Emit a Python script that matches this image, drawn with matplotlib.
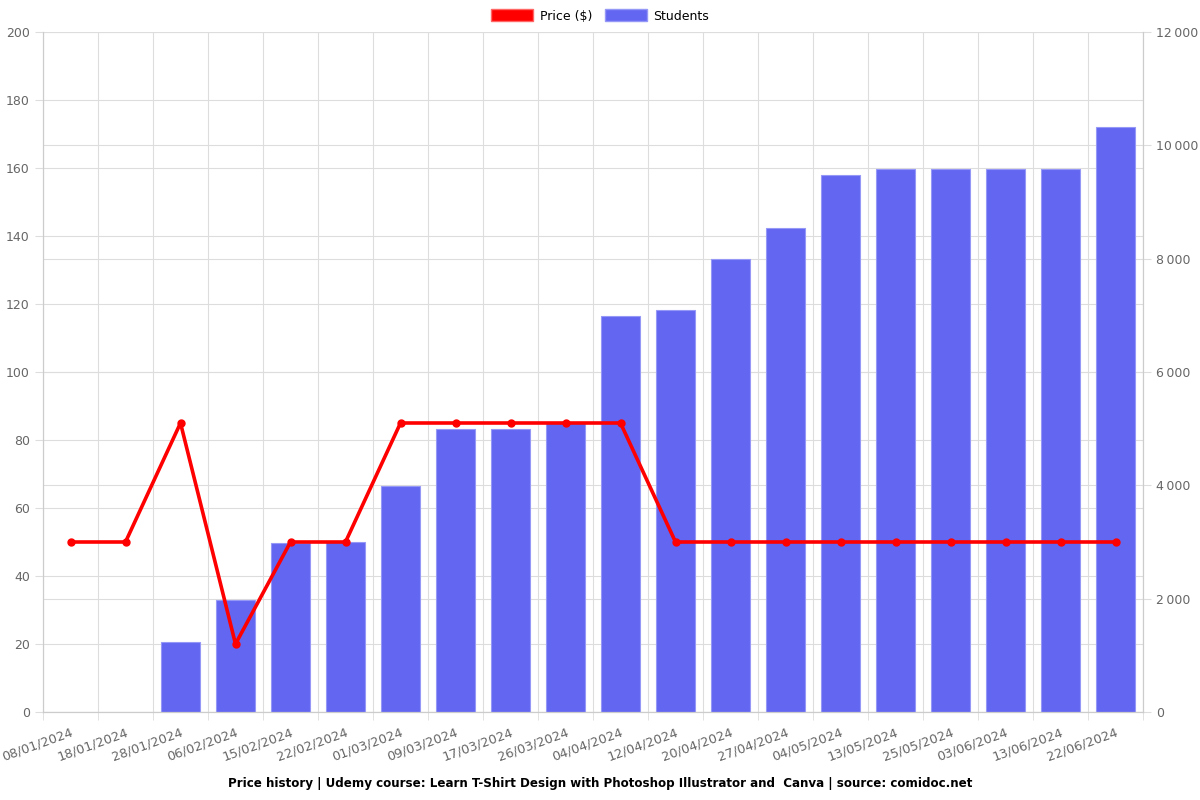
import matplotlib
matplotlib.use("Agg")
import matplotlib.pyplot as plt
from matplotlib.patches import Patch
from matplotlib.ticker import FuncFormatter, MultipleLocator
import numpy as np

dates = ["08/01/2024", "18/01/2024", "28/01/2024", "06/02/2024", "15/02/2024",
         "22/02/2024", "01/03/2024", "09/03/2024", "17/03/2024", "26/03/2024",
         "04/04/2024", "12/04/2024", "20/04/2024", "27/04/2024", "04/05/2024",
         "13/05/2024", "25/05/2024", "03/06/2024", "13/06/2024", "22/06/2024"]
price = [50, 50, 85, 20, 50, 50, 85, 85, 85, 85, 85, 50, 50, 50, 50, 50, 50, 50, 50, 50]
students = [0, 0, 1240, 1980, 2990, 3000, 3990, 4990, 4990, 5100,
            6990, 7100, 8000, 8540, 9480, 9590, 9590, 9590, 9590, 10320]

PRICE_MAX = 200
STUD_MAX = 12000

fig = plt.figure(figsize=(12, 8), dpi=100)
ax2 = fig.add_axes([43/1200, 1-712/800, 1100/1200, 680/800])  # bars (bottom)
ax = ax2.twinx()  # price line (top)
ax.yaxis.tick_left()
ax.yaxis.set_label_position("left")
ax2.yaxis.tick_right()
ax2.yaxis.set_label_position("right")

x = np.arange(len(dates))
grid_c = "#dddddd"
text_c = "#666666"

ax2.set_ylim(0, STUD_MAX)
ax2.set_xlim(-0.5, len(dates) - 0.5)
# gridlines, all drawn beneath the bars
for v in range(0, PRICE_MAX + 1, 20):
    ax2.axhline(v * STUD_MAX / PRICE_MAX, color=grid_c, linewidth=0.8, zorder=0)
for v in range(0, STUD_MAX + 1, 2000):
    ax2.axhline(v, color=grid_c, linewidth=0.8, zorder=0)
for b in np.arange(-0.5, len(dates), 1):
    ax2.axvline(b, color=grid_c, linewidth=0.8, zorder=0)

lw = [0.8 if s > 0 else 0 for s in students]
ax2.bar(x, students, width=0.7, color="#6366f1", edgecolor="#9598f6", linewidth=lw, zorder=2)
ax2.yaxis.set_major_locator(MultipleLocator(2000))
ax2.yaxis.set_major_formatter(FuncFormatter(lambda v, p: f"{int(v):,}".replace(",", "\u2009")))

ax.plot(x, price, color="#ff0000", linewidth=2.6, marker="o", markersize=5, zorder=5)
ax.set_ylim(0, PRICE_MAX)
ax.yaxis.set_major_locator(MultipleLocator(20))
ax.set_xlim(-0.5, len(dates) - 0.5)

ax2.set_xticks(x)
ax2.set_xticklabels(dates, rotation=20, ha="right", rotation_mode="anchor")
ax2.set_xticks(np.arange(-0.5, len(dates), 1), minor=True)
ax2.tick_params(axis="x", which="major", length=0, pad=10, colors=text_c, labelsize=9.3)
ax2.tick_params(axis="x", which="minor", length=6, color=grid_c)
ax.tick_params(axis="y", length=6, color=grid_c, labelcolor=text_c, labelsize=9)
ax2.tick_params(axis="y", length=6, color=grid_c, labelcolor=text_c, labelsize=9)

for a in (ax, ax2):
    for s in a.spines.values():
        s.set_color("#cccccc")
    a.spines["top"].set_visible(False)

legend_handles = [Patch(facecolor="#ff0000", edgecolor="#ff6666", label="Price ($)"),
                  Patch(facecolor="#6366f1", edgecolor="#9598f6", label="Students")]
fig.legend(handles=legend_handles, loc="center", bbox_to_anchor=(0.5, 1-16/800), ncol=2,
           frameon=False, fontsize=9, handlelength=3.4, handleheight=1.1, columnspacing=1.0,
           handletextpad=0.5)

fig.text(0.5, 1-783/800, "Price history | Udemy course: Learn T-Shirt Design with Photoshop Illustrator and  Canva | source: comidoc.net",
         ha="center", va="center", fontsize=8.6, fontweight="bold", color="#000000")

fig.savefig("out.png", dpi=100)
